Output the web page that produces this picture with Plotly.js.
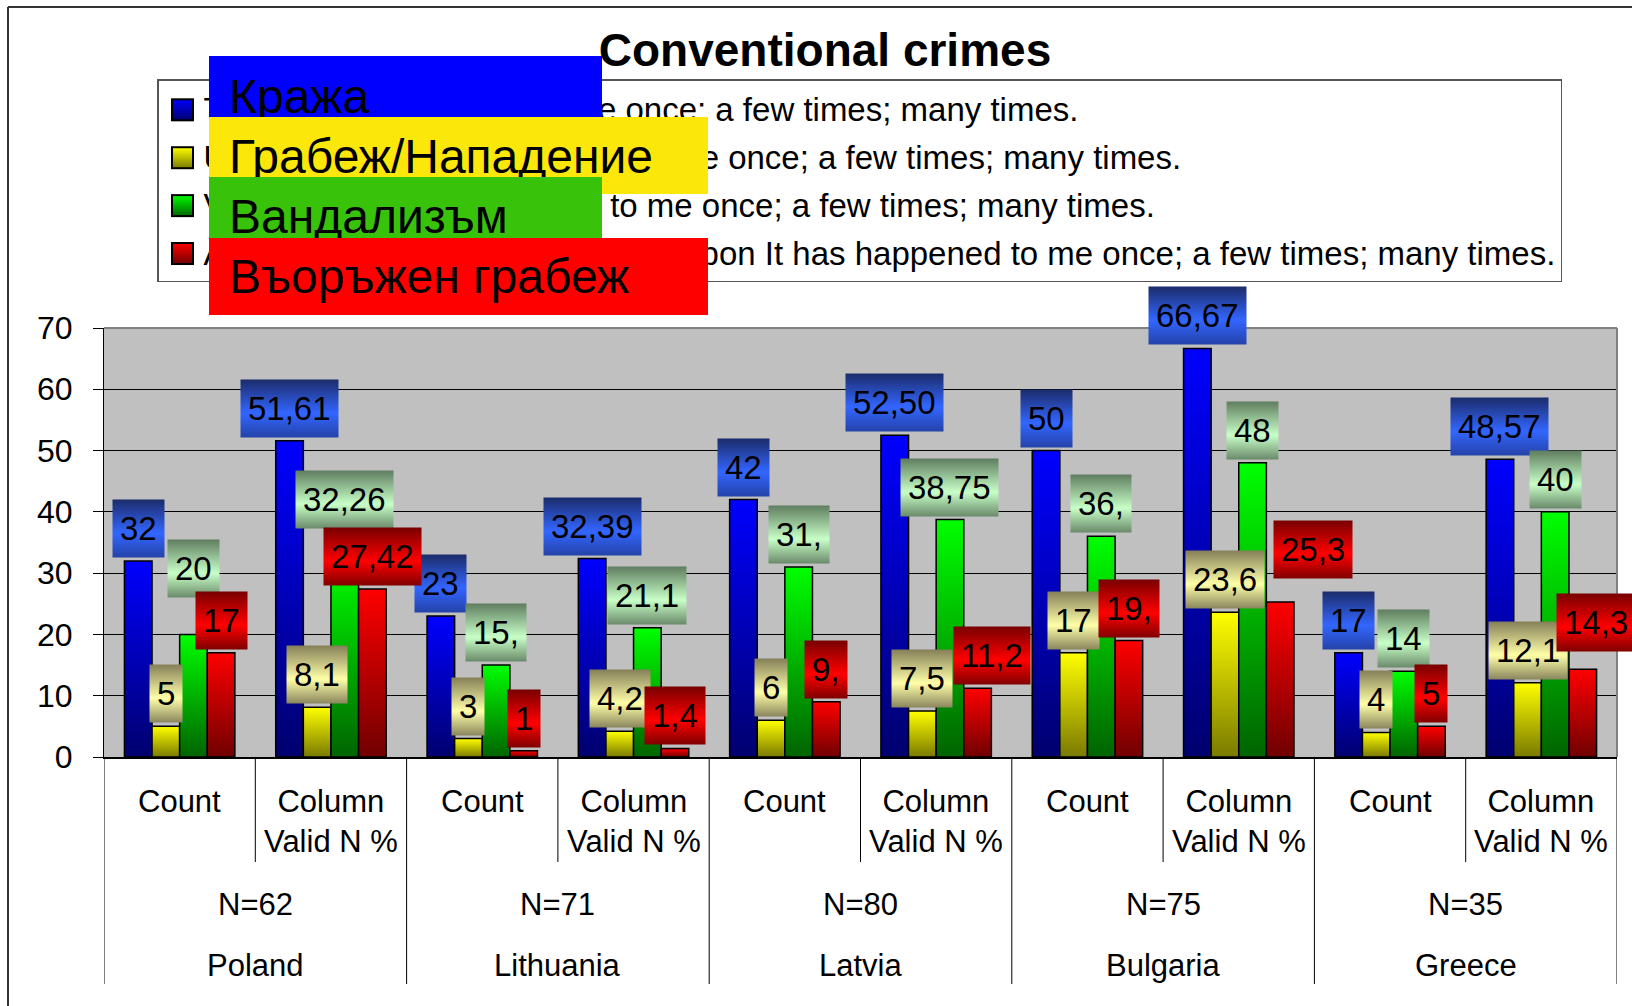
<!DOCTYPE html>
<html>
<head>
<meta charset="utf-8">
<script src="https://cdn.plot.ly/plotly-3.0.1.min.js"></script>
<style>
html,body{margin:0;padding:0;background:#fff;}
#chart{width:1632px;height:1006px;}
</style>
</head>
<body>
<div id="chart"></div>
<script>
// ---------------- DATA ----------------
const countries = ['Poland', 'Lithuania', 'Latvia', 'Bulgaria', 'Greece'];
const sampleSizes = ['N=62', 'N=71', 'N=80', 'N=75', 'N=35'];
const measures = ['Count', 'Column<br>Valid N %'];

const seriesNames = [
  'Theft It has happened to me once; a few times; many times.',
  'Use of force It has happened to me once; a few times; many times.',
  'Vandalism It has happened to me once; a few times; many times.',
  'Armed robbery/assault with a weapon It has happened to me once; a few times; many times.'
];
const overlayLabels = ['Кража', 'Грабеж/Нападение', 'Вандализъм', 'Въоръжен грабеж'];

// values per category: Poland Count, Poland %, Lithuania Count, Lithuania %, Latvia Count, Latvia %, Bulgaria Count, Bulgaria %, Greece Count, Greece %
const theft     = [32, 51.61, 23, 32.39, 42, 52.50, 50, 66.67, 17, 48.57];
const robbery   = [5, 8.1, 3, 4.2, 6, 7.5, 17, 23.6, 4, 12.1];
const vandalism = [20, 32.26, 15, 21.1, 31, 38.75, 36, 48, 14, 40];
const armed     = [17, 27.42, 1, 1.4, 9, 11.2, 19, 25.3, 5, 14.3];

const theftLabels     = ['32', '51,61', '23', '32,39', '42', '52,50', '50', '66,67', '17', '48,57'];
const robberyLabels   = ['5', '8,1', '3', '4,2', '6', '7,5', '17', '23,6', '4', '12,1'];
const vandalismLabels = ['20', '32,26', '15,', '21,1', '31,', '38,75', '36,', '48', '14', '40'];
const armedLabels     = ['17', '27,42', '1', '1,4', '9,', '11,2', '19,', '25,3', '5', '14,3'];

// ---------------- STYLE / LAYOUT ----------------
const FONT = 'Liberation Sans, Arial, sans-serif';
const W = 1632, H = 1006;
const M = {l: 104, r: 15, t: 328, b: 249};
const PW = W - M.l - M.r, PH = H - M.t - M.b;
const px2x = X => (X - M.l) / PW;
const px2y = Y => (H - M.b - Y) / PH;

const BARGAP = 0.27;
const seriesValues = [theft, robbery, vandalism, armed];
const seriesLabels = [theftLabels, robberyLabels, vandalismLabels, armedLabels];
const barColors = ['#0000D8', '#D8D800', '#00C800', '#D80000'];
const labelColors = ['#3060E0', '#E0DC98', '#A8D8A8', '#E00000'];
// manual label nudges [dx px, dy px up] keyed "series-category"
const labelNudge = {'2-0': [0, 33], '2-1': [0, 27], '3-5': [14, 0], '3-7': [33, 20], '3-9': [13, 14]};

const categories = [];
countries.forEach(c => measures.forEach(m => categories.push(c + ' – ' + m.replace('<br>', ' '))));

const traces = seriesValues.map((vals, k) => ({
  type: 'bar',
  x: categories,
  y: vals,
  name: seriesNames[k],
  legendgroup: 'g' + k,
  marker: {color: barColors[k], line: {color: '#000', width: 1.5}},
  hoverinfo: 'skip'
}));

const annotations = [];
const annGrad = [];
const bw = (1 - BARGAP) / seriesValues.length;

// data labels
seriesValues.forEach((vals, k) => vals.forEach((v, i) => {
  const nd = labelNudge[k + '-' + i] || [0, 0];
  annotations.push({
    xref: 'x', yref: 'y', x: i + (k - 1.5) * bw, y: v,
    xanchor: 'center', yanchor: 'bottom', xshift: nd[0], yshift: 3 + nd[1],
    text: seriesLabels[k][i], showarrow: false,
    font: {family: FONT, size: 33, color: '#000'},
    bgcolor: labelColors[k], borderpad: 7, height: 43
  });
  annGrad.push('lblGrad' + k);
}));

// x-axis category texts
const measureCenters = [801, 821];
categories.forEach((c, i) => {
  annotations.push({
    xref: 'x', yref: 'paper', x: i, y: px2y(measureCenters[i % 2]),
    xanchor: 'center', yanchor: 'middle', text: measures[i % 2], showarrow: false,
    font: {family: FONT, size: 31, color: '#000'}
  });
  annGrad.push(null);
});
countries.forEach((c, j) => {
  annotations.push({
    xref: 'x', yref: 'paper', x: 2 * j + 0.5, y: px2y(904), xanchor: 'center', yanchor: 'middle',
    text: sampleSizes[j], showarrow: false, font: {family: FONT, size: 31, color: '#000'}
  });
  annGrad.push(null);
  annotations.push({
    xref: 'x', yref: 'paper', x: 2 * j + 0.5, y: px2y(965), xanchor: 'center', yanchor: 'middle',
    text: c, showarrow: false, font: {family: FONT, size: 31, color: '#000'}
  });
  annGrad.push(null);
});

// overlay coloured boxes on the legend
const overlayBoxes = [
  {x0: 209, y0: 56, x1: 602, y1: 117, color: '#0000FF', ty: 96},
  {x0: 209, y0: 117, x1: 708, y1: 194, color: '#FCE70A', ty: 156.5},
  {x0: 209, y0: 177, x1: 602, y1: 238, color: '#38C30A', ty: 216.5},
  {x0: 209, y0: 238, x1: 708, y1: 315, color: '#FF0000', ty: 276}
];
overlayBoxes.forEach((b, k) => {
  annotations.push({
    xref: 'paper', yref: 'paper', x: px2x(b.x0), y: px2y(b.y0), xanchor: 'left', yanchor: 'top',
    text: '', showarrow: false, bgcolor: b.color, borderpad: 0, borderwidth: 0,
    width: b.x1 - b.x0, height: b.y1 - b.y0
  });
  annGrad.push(null);
  annotations.push({
    xref: 'paper', yref: 'paper', x: px2x(227), y: px2y(b.ty), xanchor: 'left', yanchor: 'middle',
    text: overlayLabels[k], showarrow: false, font: {family: FONT, size: 48, color: '#000'}
  });
  annGrad.push(null);
});

// shapes: category separators, plot border, outer frame
const shapes = [];
for (let b = 0; b <= categories.length; b++) {
  const isGroup = b % 2 === 0;
  shapes.push({type: 'line', xref: 'x', yref: 'paper', x0: b - 0.5, x1: b - 0.5,
    y0: 0, y1: px2y(isGroup ? 984 : 862), line: {color: '#000', width: 1}, layer: 'above'});
}
shapes.push({type: 'line', xref: 'paper', yref: 'paper', x0: 0, x1: 1, y0: 1, y1: 1, line: {color: '#808080', width: 2}, layer: 'above'});
shapes.push({type: 'line', xref: 'paper', yref: 'paper', x0: 1, x1: 1, y0: 0, y1: 1, line: {color: '#808080', width: 2}, layer: 'above'});
shapes.push({type: 'line', xref: 'paper', yref: 'paper', x0: px2x(8), x1: px2x(1640), y0: px2y(7), y1: px2y(7), line: {color: '#333', width: 2}, layer: 'above'});
shapes.push({type: 'line', xref: 'paper', yref: 'paper', x0: px2x(8), x1: px2x(8), y0: px2y(7), y1: px2y(1010), line: {color: '#333', width: 2}, layer: 'above'});

const layout = {
  width: W, height: H,
  margin: {l: M.l, r: M.r, t: M.t, b: M.b, pad: 0},
  paper_bgcolor: '#fff', plot_bgcolor: '#C0C0C0',
  barmode: 'group', bargap: BARGAP, bargroupgap: 0,
  font: {family: FONT, color: '#000'},
  title: {
    text: 'Conventional crimes',
    font: {family: FONT, size: 46, color: '#000', weight: 'bold'},
    xref: 'container', x: 825 / W, xanchor: 'center',
    yref: 'container', y: 1 - 50 / H, yanchor: 'middle'
  },
  xaxis: {type: 'category', range: [-0.5, 9.5], showticklabels: false, ticks: '', showgrid: false,
    showline: true, linecolor: '#000', linewidth: 1.5, zeroline: false},
  yaxis: {range: [0, 70], tick0: 0, dtick: 10, showgrid: true, gridcolor: '#000', gridwidth: 1,
    ticks: 'outside', ticklen: 10, tickcolor: '#000', tickwidth: 1, showline: true, linecolor: '#000', linewidth: 1,
    zeroline: false, tickfont: {family: FONT, size: 32, color: '#000'}, ticklabelstandoff: 14},
  showlegend: true,
  legend: {x: px2x(157), xanchor: 'left', y: px2y(79), yanchor: 'top', bgcolor: '#fff',
    bordercolor: '#555', borderwidth: 1.5, font: {family: FONT, size: 33, color: '#000'},
    tracegroupgap: 2, traceorder: 'grouped', itemwidth: 35},
  annotations: annotations,
  shapes: shapes
};

Plotly.newPlot('chart', traces, layout, {staticPlot: true, displayModeBar: false}).then(gd => {
  const NS = 'http://www.w3.org/2000/svg';
  const defs = gd.querySelector('svg.main-svg defs') || gd.querySelector('svg.main-svg').appendChild(document.createElementNS(NS, 'defs'));
  function addGrad(id, stops) {
    const g = document.createElementNS(NS, 'linearGradient');
    g.setAttribute('id', id);
    g.setAttribute('x1', '0'); g.setAttribute('y1', '0'); g.setAttribute('x2', '0'); g.setAttribute('y2', '1');
    stops.forEach(([o, c]) => {
      const s = document.createElementNS(NS, 'stop');
      s.setAttribute('offset', o); s.setAttribute('stop-color', c);
      g.appendChild(s);
    });
    defs.appendChild(g);
  }
  const barStops = [
    [['0', '#0000FF'], ['1', '#00006E']],
    [['0', '#FFFF00'], ['1', '#7A7A00']],
    [['0', '#00FF00'], ['1', '#006400']],
    [['0', '#FF0000'], ['1', '#700000']]
  ];
  const lblStops = [
    [['0', '#1C2C6A'], ['0.58', '#3366FF'], ['1', '#2442A8']],
    [['0', '#857F58'], ['0.58', '#FFFFA8'], ['1', '#8A865E']],
    [['0', '#5F7D5F'], ['0.58', '#C8FFC8'], ['1', '#6A8A6A']],
    [['0', '#780000'], ['0.58', '#FF0000'], ['1', '#800000']]
  ];
  barStops.forEach((s, k) => addGrad('barGrad' + k, s));
  lblStops.forEach((s, k) => addGrad('lblGrad' + k, s));

  gd.querySelectorAll('.barlayer .trace').forEach((tr, k) => {
    tr.querySelectorAll('path').forEach(p => { p.style.fill = 'url(#barGrad' + k + ')'; });
  });
  // larger gradient legend keys, placed just left of each legend text
  gd.querySelectorAll('.legend .traces').forEach((tr, k) => {
    const txt = tr.querySelector('text.legendtext');
    const pts = tr.querySelector('.legendpoints');
    if (!txt) return;
    const bb = txt.getBBox();
    const s = 21;
    const cx = bb.x - 21, cy = bb.y + bb.height / 2;
    const r = document.createElementNS(NS, 'rect');
    r.setAttribute('x', cx - s / 2); r.setAttribute('y', cy - s / 2);
    r.setAttribute('width', s); r.setAttribute('height', s);
    r.setAttribute('fill', 'url(#barGrad' + k + ')');
    r.setAttribute('stroke', '#000'); r.setAttribute('stroke-width', '2');
    txt.parentNode.insertBefore(r, txt);
    if (pts) pts.style.display = 'none';
  });
  gd.querySelectorAll('.annotation').forEach(a => {
    const idx = +a.getAttribute('data-index');
    const g = annGrad[idx];
    if (g) {
      const r = a.querySelector('rect.bg');
      if (r) r.style.fill = 'url(#' + g + ')';
    }
  });
  const info = gd.querySelector('.infolayer');
  const leg = info && info.querySelector('.legend');
  if (leg) info.insertBefore(leg, info.firstChild);
});
</script>
</body>
</html>
